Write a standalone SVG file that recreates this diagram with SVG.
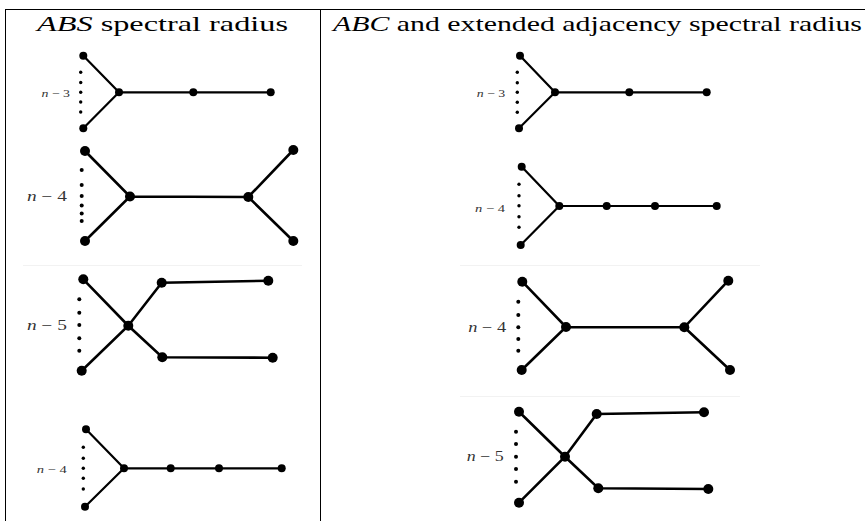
<svg xmlns="http://www.w3.org/2000/svg" width="865" height="521" viewBox="0 0 865 521">
  <style>
    .rule { stroke: #000; stroke-width: 1; fill: none; }
    .faint { stroke: #f2f2f2; stroke-width: 1; }
    .head { font-family: "Liberation Serif", "DejaVu Serif", serif; font-size: 21px; fill: #000; }
    .it { font-style: italic; }
    .lbl { font-family: "Liberation Serif", "DejaVu Serif", serif; fill: #333; }
    .s { font-size: 11px; }
    .b { font-size: 14px; }
    .e { stroke: #000; stroke-width: 2.2; stroke-linecap: round; fill: none; }
    .eb { stroke: #000; stroke-width: 2.6; stroke-linecap: round; fill: none; }
    .n { fill: #000; }
  </style>

  <!-- table rules -->
  <g id="table">
    <line class="rule" x1="5" y1="9.5" x2="865" y2="9.5"/>
    <line class="rule" x1="5.5" y1="9" x2="5.5" y2="521"/>
    <line class="rule" x1="320.5" y1="9" x2="320.5" y2="521"/>
    <line class="faint" x1="23" y1="265.5" x2="302" y2="265.5"/>
    <line class="faint" x1="460" y1="265.5" x2="760" y2="265.5"/>
    <line class="faint" x1="460" y1="396.5" x2="740" y2="396.5"/>
  </g>

  <!-- column headings -->
  <g id="headers">
    <text class="head" x="37" y="31" textLength="251" lengthAdjust="spacingAndGlyphs"><tspan class="it">ABS</tspan> spectral radius</text>
    <text class="head" x="333" y="31" textLength="529" lengthAdjust="spacingAndGlyphs"><tspan class="it">ABC</tspan> and extended adjacency spectral radius</text>
  </g>

  <!-- connectors -->
  <g id="connectors">
    <!-- left 1 -->
    <path class="e" d="M83.3,55.7 L119,92.3 L83.3,128.3 M119,92.3 L270.7,92.3"/>
    <!-- left 2 -->
    <path class="eb" d="M85,151 L130,196.5 L85,241 M130,196.5 L248.3,197 L293.3,150 M248.3,197 L293.3,241"/>
    <!-- left 3 -->
    <path class="eb" d="M83.3,279.3 L128.3,325.7 L162.3,357.3 L272.7,357.7 M81.7,370.7 L128.3,325.7 L161.7,282.7 L268.3,280.7"/>
    <!-- left 4 -->
    <path class="e" d="M86,429.3 L124,468.3 L85,506.7 M124,468.3 L281.7,468.3"/>
    <!-- right 1 -->
    <path class="e" d="M520,55.7 L555,92.3 L519,128.3 M555,92.3 L706.7,92.3"/>
    <!-- right 2 -->
    <path class="e" d="M521.7,166.7 L559.3,206 L520.7,245 M559.3,206 L716.7,206"/>
    <!-- right 3 -->
    <path class="eb" d="M522.3,281.7 L566,327 L521.7,370 M566,327 L684.3,327.3 L728.3,280.7 M684.3,327.3 L730,370"/>
    <!-- right 4 -->
    <path class="eb" d="M519,411.7 L565,456.7 L598.3,488.3 L708.3,489 M519,502.7 L565,456.7 L596.7,414 L704,412.3"/>
  </g>

  <!-- graph: left, n-3 -->
  <g id="abs-g1">
    <g class="n">
      <circle cx="83.3" cy="55.7" r="4"/>
      <circle cx="83.3" cy="128.3" r="4"/>
      <circle cx="119" cy="92.3" r="4"/>
      <circle cx="193.3" cy="92.3" r="4"/>
      <circle cx="270.7" cy="92.3" r="4"/>
      <circle cx="80.7" cy="72.3" r="1.7"/>
      <circle cx="80.7" cy="82.5" r="1.7"/>
      <circle cx="80.7" cy="92.3" r="1.7"/>
      <circle cx="80.7" cy="102" r="1.7"/>
      <circle cx="80.7" cy="112" r="1.7"/>
    </g>
    <text class="lbl s" x="41.5" y="96.5" textLength="28.5" lengthAdjust="spacingAndGlyphs"><tspan class="it">n</tspan> − 3</text>
  </g>

  <!-- graph: left, n-4 double broom -->
  <g id="abs-g2">
    <g class="n">
      <circle cx="85" cy="151" r="5"/>
      <circle cx="85" cy="241" r="5"/>
      <circle cx="130" cy="196.5" r="5"/>
      <circle cx="248.3" cy="197" r="5"/>
      <circle cx="293.3" cy="150" r="5"/>
      <circle cx="293.3" cy="241" r="5"/>
      <circle cx="81.7" cy="170" r="2"/>
      <circle cx="81.7" cy="185" r="2"/>
      <circle cx="81.7" cy="196" r="2"/>
      <circle cx="81.7" cy="205.5" r="2"/>
      <circle cx="81.7" cy="213.5" r="2"/>
      <circle cx="81.7" cy="221" r="2"/>
    </g>
    <text class="lbl b" x="27" y="201" textLength="40" lengthAdjust="spacingAndGlyphs"><tspan class="it">n</tspan> − 4</text>
  </g>

  <!-- graph: left, n-5 -->
  <g id="abs-g3">
    <g class="n">
      <circle cx="83.3" cy="279.3" r="5"/>
      <circle cx="81.7" cy="370.7" r="5"/>
      <circle cx="128.3" cy="325.7" r="5"/>
      <circle cx="161.7" cy="282.7" r="5"/>
      <circle cx="268.3" cy="280.7" r="5"/>
      <circle cx="162.3" cy="357.3" r="5"/>
      <circle cx="272.7" cy="357.7" r="5"/>
      <circle cx="79.3" cy="299.3" r="2"/>
      <circle cx="79.3" cy="312.7" r="2"/>
      <circle cx="79.3" cy="325" r="2"/>
      <circle cx="79.3" cy="338.3" r="2"/>
      <circle cx="79.3" cy="350.7" r="2"/>
    </g>
    <text class="lbl b" x="27" y="330" textLength="40" lengthAdjust="spacingAndGlyphs"><tspan class="it">n</tspan> − 5</text>
  </g>

  <!-- graph: left, n-4 long tail -->
  <g id="abs-g4">
    <g class="n">
      <circle cx="86" cy="429.3" r="4"/>
      <circle cx="85" cy="506.7" r="4"/>
      <circle cx="124" cy="468.3" r="4"/>
      <circle cx="170.7" cy="468.3" r="4"/>
      <circle cx="219" cy="468.3" r="4"/>
      <circle cx="281.7" cy="468.3" r="4"/>
      <circle cx="83.3" cy="447.3" r="1.7"/>
      <circle cx="83.3" cy="458.3" r="1.7"/>
      <circle cx="83.3" cy="468.3" r="1.7"/>
      <circle cx="83.3" cy="478.3" r="1.7"/>
      <circle cx="83.3" cy="489" r="1.7"/>
    </g>
    <text class="lbl s" x="36.7" y="473" textLength="30" lengthAdjust="spacingAndGlyphs"><tspan class="it">n</tspan> − 4</text>
  </g>

  <!-- graph: right, n-3 -->
  <g id="abc-g1">
    <g class="n">
      <circle cx="520" cy="55.7" r="4"/>
      <circle cx="519" cy="128.3" r="4"/>
      <circle cx="555" cy="92.3" r="4"/>
      <circle cx="629.3" cy="92.3" r="4"/>
      <circle cx="706.7" cy="92.3" r="4"/>
      <circle cx="517.3" cy="72.3" r="1.7"/>
      <circle cx="517.3" cy="82.7" r="1.7"/>
      <circle cx="517.3" cy="92.3" r="1.7"/>
      <circle cx="517.3" cy="102.3" r="1.7"/>
      <circle cx="517.3" cy="112.3" r="1.7"/>
    </g>
    <text class="lbl s" x="476.7" y="96.5" textLength="28.5" lengthAdjust="spacingAndGlyphs"><tspan class="it">n</tspan> − 3</text>
  </g>

  <!-- graph: right, n-4 long tail -->
  <g id="abc-g2">
    <g class="n">
      <circle cx="521.7" cy="166.7" r="4"/>
      <circle cx="520.7" cy="245" r="4"/>
      <circle cx="559.3" cy="206" r="4"/>
      <circle cx="606.7" cy="206" r="4"/>
      <circle cx="655" cy="206" r="4"/>
      <circle cx="716.7" cy="206" r="4"/>
      <circle cx="519" cy="184.3" r="1.7"/>
      <circle cx="519" cy="195.7" r="1.7"/>
      <circle cx="519" cy="205.7" r="1.7"/>
      <circle cx="519" cy="216.7" r="1.7"/>
      <circle cx="519" cy="227.3" r="1.7"/>
    </g>
    <text class="lbl s" x="475" y="211.5" textLength="30" lengthAdjust="spacingAndGlyphs"><tspan class="it">n</tspan> − 4</text>
  </g>

  <!-- graph: right, n-4 double broom -->
  <g id="abc-g3">
    <g class="n">
      <circle cx="522.3" cy="281.7" r="5"/>
      <circle cx="521.7" cy="370" r="5"/>
      <circle cx="566" cy="327" r="5"/>
      <circle cx="684.3" cy="327.3" r="5"/>
      <circle cx="728.3" cy="280.7" r="5"/>
      <circle cx="730" cy="370" r="5"/>
      <circle cx="518.3" cy="301.7" r="2"/>
      <circle cx="518.3" cy="315" r="2"/>
      <circle cx="518.3" cy="327.3" r="2"/>
      <circle cx="518.3" cy="339" r="2"/>
      <circle cx="518.3" cy="350.7" r="2"/>
    </g>
    <text class="lbl b" x="468.3" y="331.5" textLength="38" lengthAdjust="spacingAndGlyphs"><tspan class="it">n</tspan> − 4</text>
  </g>

  <!-- graph: right, n-5 -->
  <g id="abc-g4">
    <g class="n">
      <circle cx="519" cy="411.7" r="5"/>
      <circle cx="519" cy="502.7" r="5"/>
      <circle cx="565" cy="456.7" r="5"/>
      <circle cx="596.7" cy="414" r="5"/>
      <circle cx="704" cy="412.3" r="5"/>
      <circle cx="598.3" cy="488.3" r="5"/>
      <circle cx="708.3" cy="489" r="5"/>
      <circle cx="516" cy="431.7" r="2"/>
      <circle cx="516" cy="444" r="2"/>
      <circle cx="516" cy="456.7" r="2"/>
      <circle cx="516" cy="469" r="2"/>
      <circle cx="516" cy="481.7" r="2"/>
    </g>
    <text class="lbl b" x="466.7" y="461" textLength="37" lengthAdjust="spacingAndGlyphs"><tspan class="it">n</tspan> − 5</text>
  </g>
</svg>
